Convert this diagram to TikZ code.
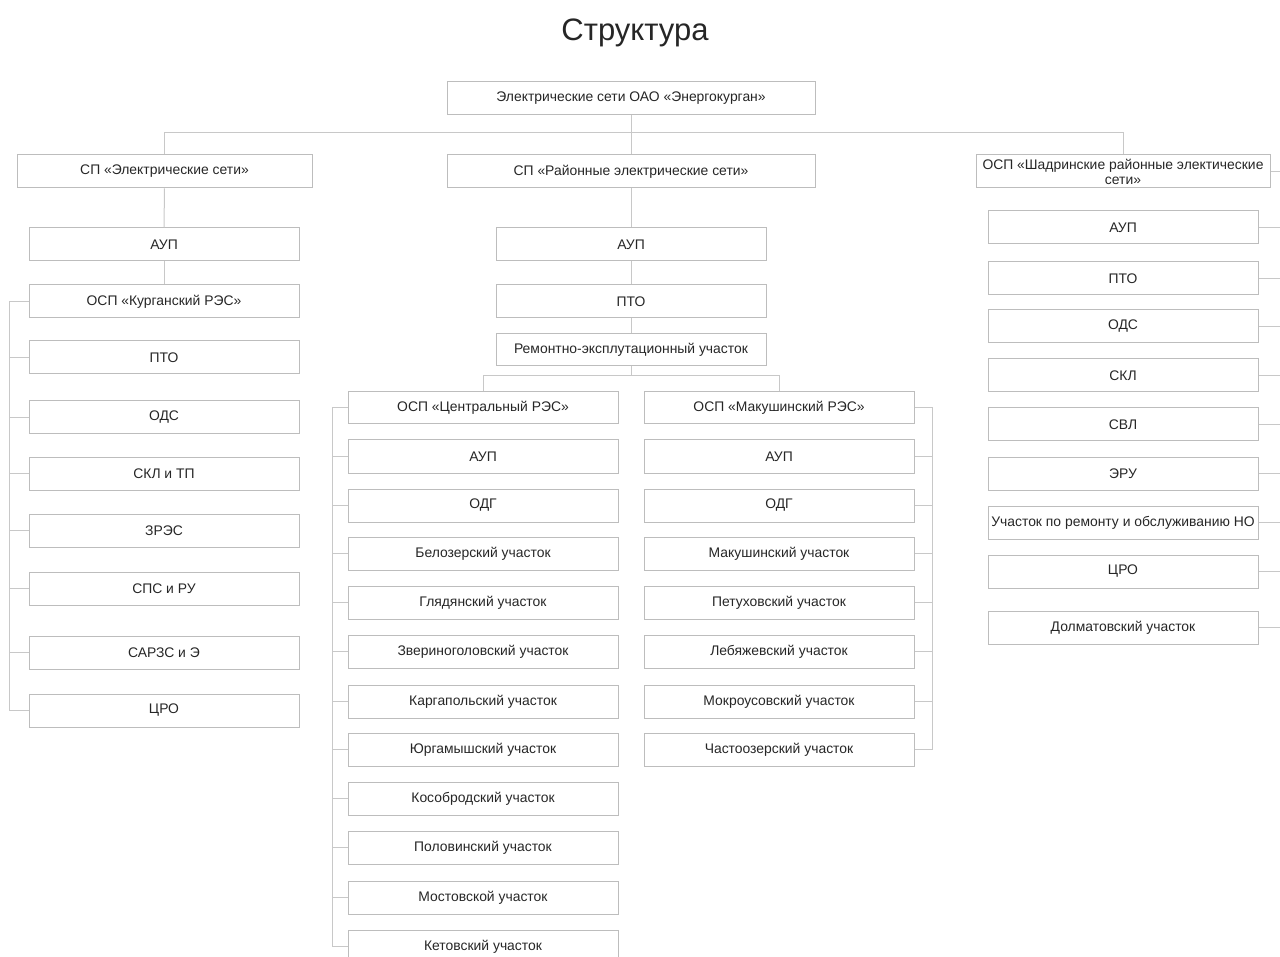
\documentclass[tikz,border=0pt]{standalone}
\usepackage{fontspec}
\setmainfont{Liberation Sans}
\definecolor{boxline}{HTML}{BDBDBD}
\definecolor{wire}{HTML}{C8C8C8}
\definecolor{ink}{HTML}{262626}
\tikzset{
  unit/.style={draw=boxline, line width=1pt, minimum height=33pt, minimum width=270pt,
    inner sep=1pt, align=center, text=ink, font=\fontsize{13.9}{15}\selectfont},
  link/.style={draw=wire, line width=1pt}
}
\begin{document}
\begin{tikzpicture}[x=1pt, y={(0,-1pt)}]
\useasboundingbox (0,0) rectangle (1280,957);
\clip (0,0) rectangle (1280,957);
\node[text=ink, font=\fontsize{31}{34}\selectfont] (title) at (635,33) {Структура};

% top level
\node[unit, minimum width=368pt] (root) at (631,98) {Электрические сети ОАО «Энергокурган»};
\node[unit, minimum width=295pt] (sp1) at (164.5,171.5) {СП «Электрические сети»};
\node[unit, minimum width=368pt] (sp2) at (631,171.5) {СП «Районные электрические сети»};
\node[unit, minimum width=294pt, inner sep=0pt] (osp3) at (1123,171.5) {ОСП «Шадринские районные электические\\сети»};
\draw[link] (root) -- (sp2);
\draw[link] (root.south) -- +(0,18) -| (sp1.north);
\draw[link] (root.south) -- +(0,18) -| (osp3.north);

% left branch
\node[unit] (aup1) at (164,244.5) {АУП};
\node[unit] (kurg) at (164,301.5) {ОСП «Курганский РЭС»};
\node[unit] (pto1) at (164,357.5) {ПТО};
\node[unit] (ods1) at (164,417.5) {ОДС};
\node[unit] (skl1) at (164,473.5) {СКЛ и ТП};
\node[unit] (zres) at (164,530.5) {ЗРЭС};
\node[unit] (sps) at (164,588.5) {СПС и РУ};
\node[unit] (sarzs) at (164,652.5) {САРЗС и Э};
\node[unit] (cro1) at (164,710.5) {ЦРО};
\draw[link] (sp1) -- (aup1);
\draw[link] (aup1) -- (kurg);
\foreach \n in {pto1,ods1,skl1,zres,sps,sarzs,cro1}
  \draw[link] (kurg.west) -- +(-19,0) |- (\n.west);

% middle branch
\node[unit] (aup2) at (631,244.5) {АУП};
\node[unit] (pto2) at (631,301.5) {ПТО};
\node[unit, minimum height=32pt] (rem) at (631,350) {Ремонтно-эксплутационный участок};
\node[unit, minimum height=32pt] (cent) at (483,408) {ОСП «Центральный РЭС»};
\node[unit, minimum height=32pt] (mak) at (779,408) {ОСП «Макушинский РЭС»};
\draw[link] (sp2) -- (aup2);
\draw[link] (aup2) -- (pto2);
\draw[link] (pto2) -- (rem);
\draw[link] (rem.south) -- +(0,9) -| (cent.north);
\draw[link] (rem.south) -- +(0,9) -| (mak.north);

% central RES
\node[unit] (aupc) at (483,456.5) {АУП};
\node[unit] (odgc) at (483,505.5) {ОДГ};
\node[unit] (bel) at (483,553.5) {Белозерский участок};
\node[unit] (glya) at (483,602.5) {Глядянский участок};
\node[unit] (zver) at (483,651.5) {Звериноголовский участок};
\node[unit] (karg) at (483,701.5) {Каргапольский участок};
\node[unit] (yurg) at (483,749.5) {Юргамышский участок};
\node[unit] (kosob) at (483,798.5) {Кособродский участок};
\node[unit] (polov) at (483,847.5) {Половинский участок};
\node[unit] (most) at (483,897.5) {Мостовской участок};
\node[unit] (ketov) at (483,946.5) {Кетовский участок};
\foreach \n in {aupc,odgc,bel,glya,zver,karg,yurg,kosob,polov,most,ketov}
  \draw[link] (cent.west) -- +(-15,0) |- (\n.west);

% makushino RES
\node[unit] (aupm) at (779,456.5) {АУП};
\node[unit] (odgm) at (779,505.5) {ОДГ};
\node[unit] (maku) at (779,553.5) {Макушинский участок};
\node[unit] (petu) at (779,602.5) {Петуховский участок};
\node[unit] (lebya) at (779,651.5) {Лебяжевский участок};
\node[unit] (mokr) at (779,701.5) {Мокроусовский участок};
\node[unit] (chast) at (779,749.5) {Частоозерский участок};
\foreach \n in {aupm,odgm,maku,petu,lebya,mokr,chast}
  \draw[link] (mak.east) -- +(18,0) |- (\n.east);

% right branch
\coordinate (edge) at (1290,0);
\node[unit] (aup3) at (1123,227.5) {АУП};
\node[unit] (pto3) at (1123,278.5) {ПТО};
\node[unit] (ods3) at (1123,326.5) {ОДС};
\node[unit] (skl3) at (1123,375.5) {СКЛ};
\node[unit] (svl) at (1123,424.5) {СВЛ};
\node[unit] (eru) at (1123,473.5) {ЭРУ};
\node[unit, inner sep=0pt] (remno) at (1123,522.5) {Участок по ремонту и обслуживанию НО};
\node[unit] (cro3) at (1123,571.5) {ЦРО};
\node[unit] (dolm) at (1123,627.5) {Долматовский участок};
\foreach \n in {osp3,aup3,pto3,ods3,skl3,svl,eru,remno,cro3,dolm}
  \draw[link] (\n.east) -- (\n.east -| edge);
\end{tikzpicture}
\end{document}
